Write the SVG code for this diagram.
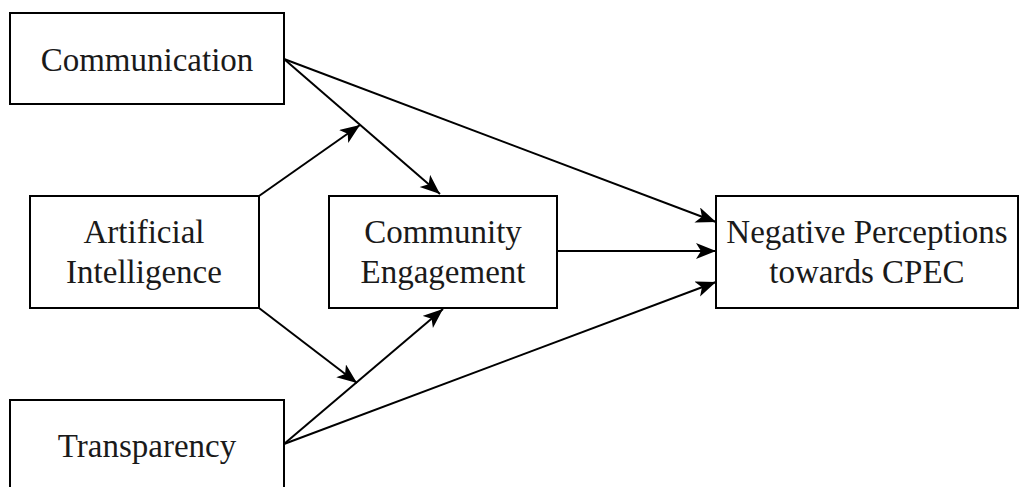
<svg xmlns="http://www.w3.org/2000/svg" width="1024" height="487" viewBox="0 0 1024 487">
<style>
.box{fill:#fff;stroke:#000;stroke-width:2}
.t{font-family:"Liberation Serif","Times New Roman",serif;font-size:33px;fill:#1a1a1a;text-anchor:middle}
.c{stroke:#000;stroke-width:2;fill:none;marker-end:url(#ah)}
</style>
<defs>
<marker id="ah" markerUnits="userSpaceOnUse" markerWidth="22" markerHeight="18" refX="20" refY="8" orient="auto">
<path d="M0,0 L20,8 L0,16 L5,8 z" fill="#000"/>
</marker>
</defs>
<rect width="1024" height="487" fill="#fff"/>
<g id="connectors">
<line class="c" x1="284" y1="59" x2="440" y2="194"/>
<line class="c" x1="284" y1="59" x2="716" y2="222"/>
<line class="c" x1="259" y1="196" x2="360" y2="125"/>
<line class="c" x1="557" y1="251" x2="716" y2="251"/>
<line class="c" x1="259" y1="308" x2="357" y2="383"/>
<line class="c" x1="284" y1="444" x2="443" y2="309"/>
<line class="c" x1="284" y1="444" x2="716" y2="282"/>
</g>
<g id="communication">
<rect class="box" x="10" y="13" width="274" height="91"/>
<text class="t" x="147" y="71">Communication</text>
</g>
<g id="ai">
<rect class="box" x="30" y="196" width="229" height="112"/>
<text class="t" x="144" y="243">Artificial</text>
<text class="t" x="144" y="283">Intelligence</text>
</g>
<g id="ce">
<rect class="box" x="329" y="196" width="228" height="112"/>
<text class="t" x="443" y="243">Community</text>
<text class="t" x="443" y="283">Engagement</text>
</g>
<g id="neg">
<rect class="box" x="716" y="196" width="302" height="112"/>
<text class="t" x="867" y="243">Negative Perceptions</text>
<text class="t" x="867" y="283">towards CPEC</text>
</g>
<g id="transparency">
<rect class="box" x="10" y="400" width="274" height="100"/>
<text class="t" x="147" y="457">Transparency</text>
</g>
</svg>
